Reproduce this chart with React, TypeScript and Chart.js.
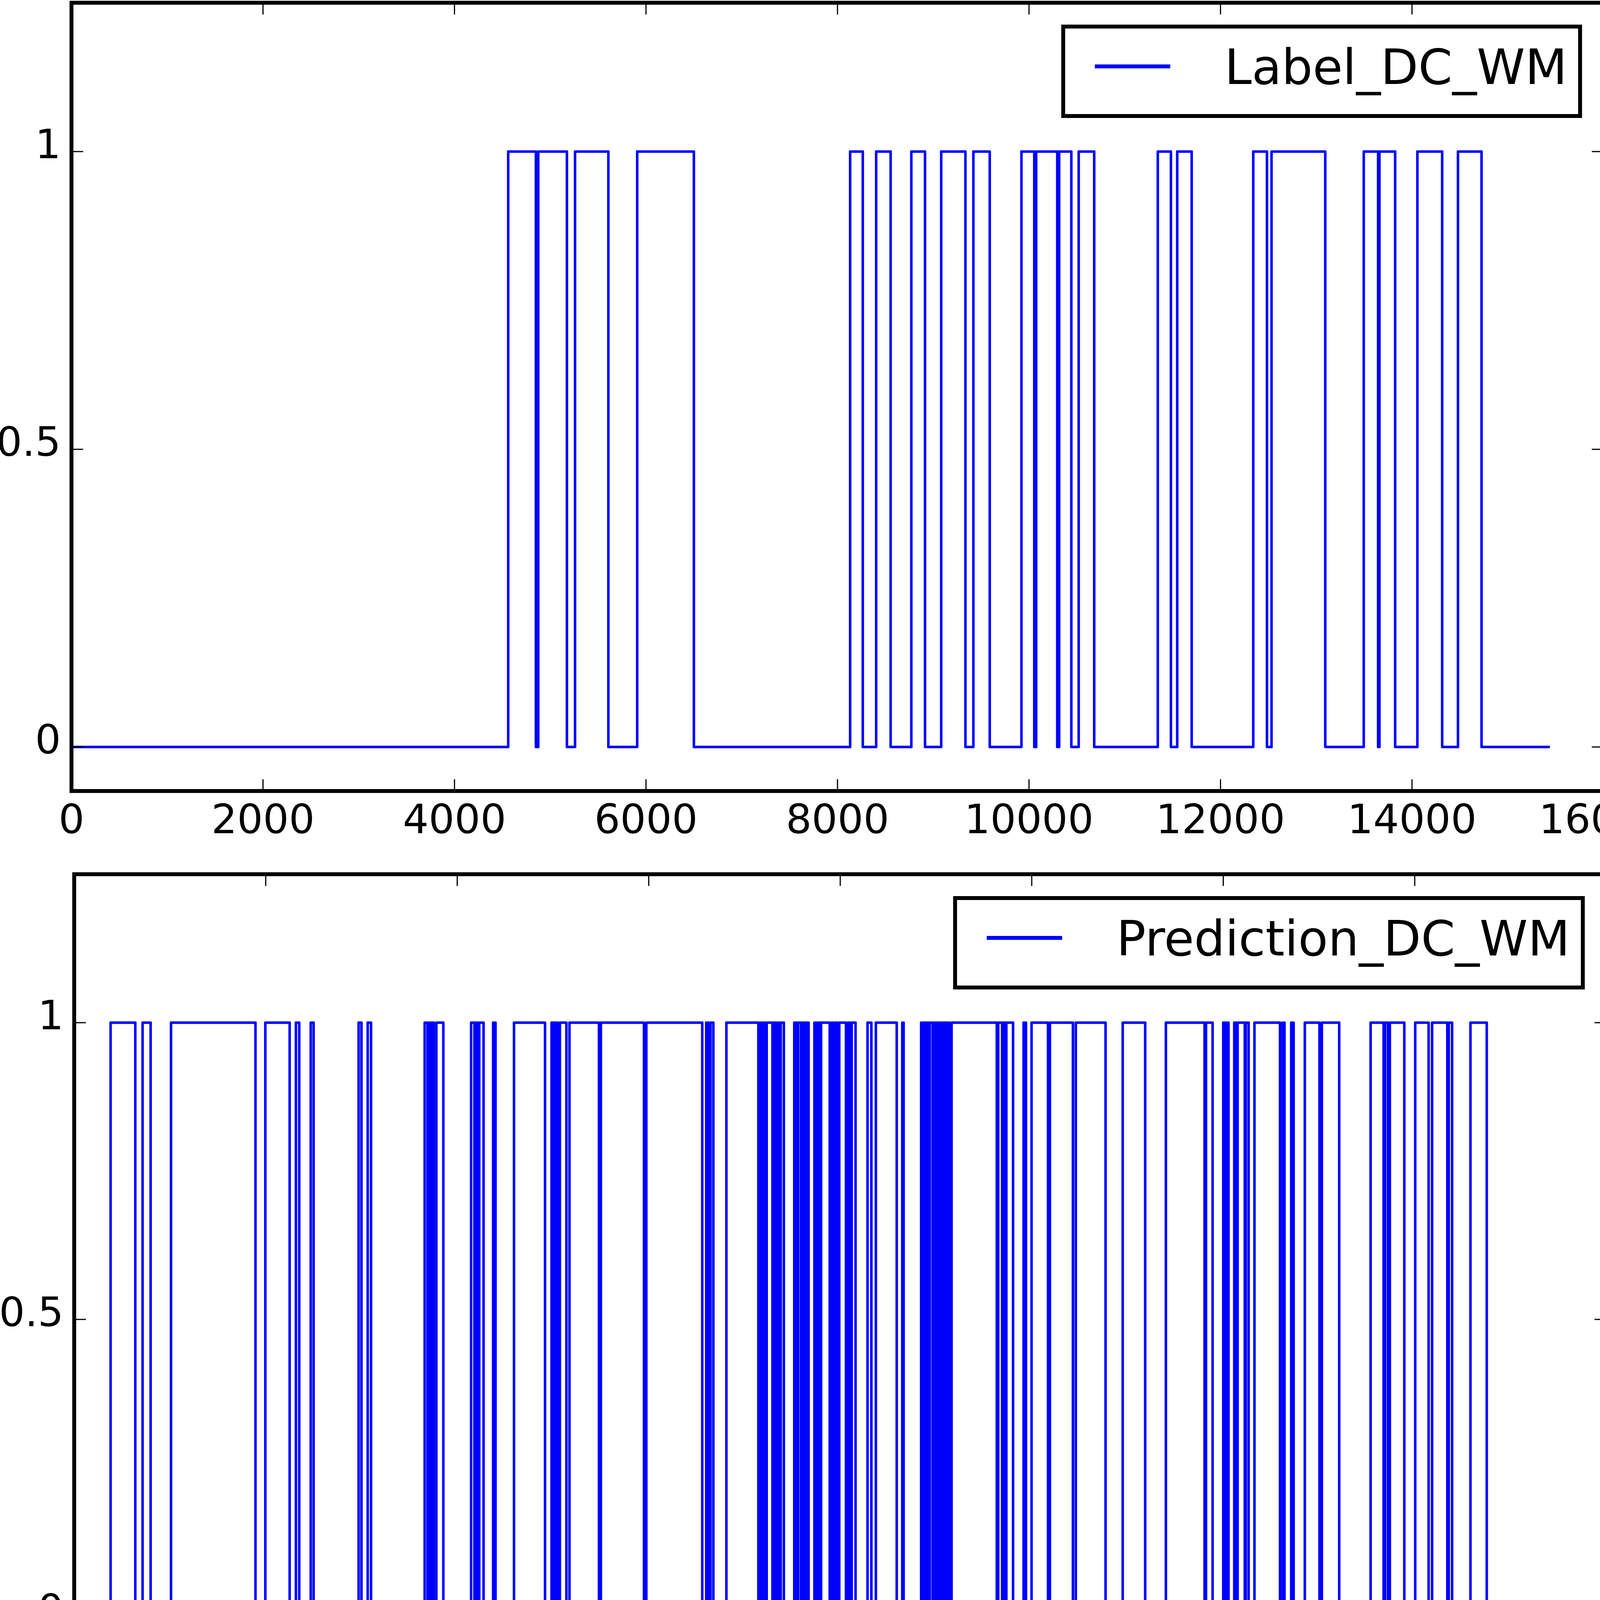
import { useEffect, useRef } from 'react'
import Chart from 'chart.js/auto'

// x ticks, y ticks and where the recorded series stops
const X_TICKS = [0, 2000, 4000, 6000, 8000, 10000, 12000, 14000, 16000]
const Y_TICKS = [0, 0.5, 1]
const SERIES_END = 15440

// [start, end] sample ranges where the signal is 1 (0 elsewhere)
const labelHigh: [number, number][] = [
  [4561, 4850], [4875, 5174], [5259, 5607], [5908, 6500],
  [8132, 8264], [8404, 8555], [8771, 8914], [9083, 9336], [9419, 9590],
  [9921, 10055], [10075, 10295], [10315, 10442], [10519, 10681],
  [11345, 11482], [11548, 11699], [12342, 12485], [12533, 13094],
  [13496, 13646], [13660, 13824], [14056, 14315], [14480, 14726],
]

const predictionHigh: [number, number][] = [
  [380, 638], [714, 798], [1011, 1893], [1996, 2250], [2315, 2350], [2470, 2500],
  [2970, 3000], [3065, 3100],
  [3660, 3690], [3700, 3720], [3735, 3755], [3782, 3855],
  [4145, 4180], [4195, 4215], [4230, 4275], [4375, 4400], [4593, 4917],
  [4985, 5010], [5025, 5050], [5072, 5140], [5172, 5480], [5500, 5950], [5975, 6559],
  [6600, 6625], [6645, 6675],
  [6811, 7145], [7160, 7180], [7195, 7215], [7232, 7292], [7307, 7327], [7342, 7362], [7378, 7411],
  [7520, 7545], [7560, 7590], [7605, 7630], [7645, 7670],
  [7730, 7755], [7770, 7790], [7800, 7890], [7910, 7930], [7950, 7970], [7990, 8060],
  [8080, 8100], [8120, 8160],
  [8285, 8325], [8372, 8590], [8648, 8662],
  [8845, 8860], [8875, 8895], [8910, 8920], [8935, 8965], [8980, 9000], [9015, 9035],
  [9050, 9070], [9085, 9105], [9120, 9140], [9163, 9635],
  [9650, 9690], [9700, 9720], [9735, 9805], [9915, 9940], [9998, 10170], [10190, 10430],
  [10460, 10771], [10950, 11185], [11401, 11805], [11820, 11889],
  [12000, 12020], [12030, 12055], [12115, 12140], [12150, 12225], [12235, 12265],
  [12326, 12593], [12620, 12640], [12710, 12735], [12852, 13005], [13030, 13211],
  [13539, 13675], [13690, 13720], [13740, 13891], [14005, 14145], [14181, 14340],
  [14355, 14390], [14582, 14752],
]

const W = 4288
const TOP_H = 2200
const BOTTOM_H = 4372 - TOP_H
const TOP_AREA = { left: 183, right: 4105, top: 7, bottom: 2025 }
const BOTTOM_AREA = { left: 190, right: 4112, top: 38, bottom: 2050 }

const BLUE = '#0000ff'
const FONT = 'DejaVu Sans'

function toSteps(high: [number, number][]) {
  const pts = [{ x: 0, y: 0 }]
  for (const [a, b] of high) {
    pts.push({ x: a, y: 1 }, { x: b, y: 0 })
  }
  pts.push({ x: SERIES_END, y: 0 })
  return pts
}

// frame, inward tick marks and the boxed legend, matplotlib classic look
const framePlugin = {
  id: 'frame',
  afterDraw(chart: any) {
    const { ctx, chartArea: a, scales } = chart
    ctx.save()
    ctx.strokeStyle = '#000'
    ctx.lineWidth = 3
    ctx.beginPath()
    for (const v of X_TICKS) {
      const px = scales.x.getPixelForValue(v)
      ctx.moveTo(px, a.bottom)
      ctx.lineTo(px, a.bottom - 30)
      ctx.moveTo(px, a.top)
      ctx.lineTo(px, a.top + 30)
    }
    for (const v of Y_TICKS) {
      const py = scales.y.getPixelForValue(v)
      ctx.moveTo(a.left, py)
      ctx.lineTo(a.left + 30, py)
      ctx.moveTo(a.right, py)
      ctx.lineTo(a.right - 30, py)
    }
    ctx.stroke()
    ctx.lineWidth = 10
    ctx.strokeRect(a.left, a.top, a.right - a.left, a.bottom - a.top)

    const ds = chart.data.datasets[0]
    ctx.font = `125px "${FONT}"`
    const tw = ctx.measureText(ds.label).width
    const boxRight = a.right - 60
    const textRight = boxRight - 33
    const textLeft = textRight - tw
    const lineEnd = textLeft - 139
    const lineStart = lineEnd - 193
    const boxLeft = lineStart - 81
    const boxTop = a.top + 61
    const boxH = 229
    const cy = a.top + 163
    ctx.fillStyle = '#fff'
    ctx.fillRect(boxLeft, boxTop, boxRight - boxLeft, boxH)
    ctx.strokeStyle = '#000'
    ctx.lineWidth = 10
    ctx.strokeRect(boxLeft, boxTop, boxRight - boxLeft, boxH)
    ctx.strokeStyle = ds.borderColor
    ctx.lineWidth = 10
    ctx.beginPath()
    ctx.moveTo(lineStart, cy)
    ctx.lineTo(lineEnd, cy)
    ctx.stroke()
    ctx.fillStyle = '#000'
    ctx.textAlign = 'left'
    ctx.textBaseline = 'alphabetic'
    ctx.fillText(ds.label, textLeft, cy + 45)
    ctx.restore()
  },
}

function Panel({
  label,
  high,
  top,
  height,
  area,
}: {
  label: string
  high: [number, number][]
  top: number
  height: number
  area: { left: number; right: number; top: number; bottom: number }
}) {
  const ref = useRef<HTMLCanvasElement>(null)

  useEffect(() => {
    if (!ref.current) return
    const tickFont = { family: FONT, size: 104 }

    const chart = new Chart(ref.current, {
      type: 'line',
      data: {
        datasets: [
          {
            label,
            data: toSteps(high),
            stepped: true,
            borderColor: BLUE,
            borderWidth: 6.5,
            borderJoinStyle: 'round',
            pointRadius: 0,
            fill: false,
          },
        ],
      },
      options: {
        responsive: false,
        animation: false,
        devicePixelRatio: 1,
        events: [],
        layout: { padding: { top: area.top, right: W - area.right, bottom: 0, left: 0 } },
        plugins: { legend: { display: false }, tooltip: { enabled: false } },
        scales: {
          x: {
            type: 'linear',
            min: 0,
            max: 16000,
            grid: { display: false, drawTicks: false },
            border: { display: false },
            ticks: {
              color: '#000',
              font: tickFont,
              padding: 19,
              maxRotation: 0,
              minRotation: 0,
              autoSkip: false,
              callback: (v: any) => String(v),
            },
            afterBuildTicks: (s: any) => {
              s.ticks = X_TICKS.map((value) => ({ value }))
            },
            afterFit: (s: any) => {
              s.height = height - area.bottom
              s.paddingLeft = 0
              s.paddingRight = 0
            },
          },
          y: {
            type: 'linear',
            min: -0.074,
            max: 1.25,
            grid: { display: false, drawTicks: false },
            border: { display: false },
            ticks: {
              color: '#000',
              font: tickFont,
              padding: 27,
              labelOffset: -10,
              callback: (v: any) => String(v),
            },
            afterBuildTicks: (s: any) => {
              s.ticks = Y_TICKS.map((value) => ({ value }))
            },
            afterFit: (s: any) => {
              s.width = area.left
              s.paddingTop = 0
              s.paddingBottom = 0
            },
          },
        },
      },
      plugins: [framePlugin],
    } as any)

    return () => chart.destroy()
  }, [label, high, height, area])

  return (
    <canvas
      ref={ref}
      width={W}
      height={height}
      style={{ position: 'absolute', left: 0, top, width: W, height }}
    />
  )
}

export default function App() {
  return (
    <div style={{ position: 'absolute', left: 0, top: 0, width: W, height: 4372, background: '#fff' }}>
      <Panel label="Label_DC_WM" high={labelHigh} top={0} height={TOP_H} area={TOP_AREA} />
      <Panel
        label="Prediction_DC_WM"
        high={predictionHigh}
        top={TOP_H}
        height={BOTTOM_H}
        area={BOTTOM_AREA}
      />
    </div>
  )
}
